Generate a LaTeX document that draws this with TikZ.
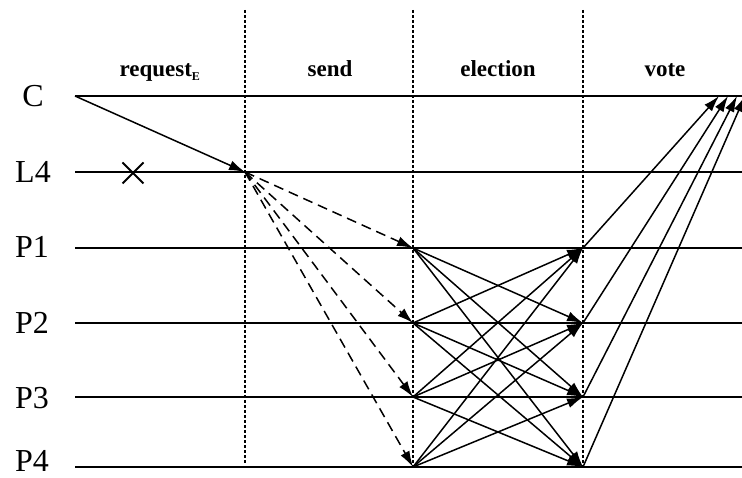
\documentclass[tikz,border=0pt]{standalone}
\usepackage{fontspec}
\setmainfont{Liberation Serif}
\usetikzlibrary{arrows.meta,shapes.misc}
\begin{document}
\begin{tikzpicture}[x=1pt,y=-1pt,
  proc/.style={font=\fontsize{32}{32}\selectfont, inner sep=0pt, text depth=0pt, anchor=base},
  phase/.style={font=\bfseries\fontsize{23}{23}\selectfont, inner sep=0pt, anchor=base},
  timeline/.style={line width=1.6pt},
  divider/.style={line width=1.2pt, dash pattern=on 3pt off 2pt},
  msg/.style={line width=1.5pt, -{Latex[length=16pt,width=10pt]}},
  dmsg/.style={msg, dash pattern=on 10pt off 6pt},
  crossmark/.style={cross out, draw, line width=2pt, minimum size=19pt, inner sep=0pt}]
\useasboundingbox (0,0) rectangle (742,478);
% process labels
\node[proc] (lC) at (33,107) {C};
\node[proc] (lL4) at (33,183) {L4};
\node[proc] (lP1) at (32,258) {P1};
\node[proc] (lP2) at (32,334) {P2};
\node[proc] (lP3) at (32,408) {P3};
\node[proc] (lP4) at (32,471) {P4};
% phase headers
\node[phase] (hreq) at (160,77) {request\textsubscript{\fontsize{12}{12}\selectfont E}};
\node[phase] (hsend) at (330,77) {send};
\node[phase] (helec) at (498,77) {election};
\node[phase] (hvote) at (665,77) {vote};
% timeline coordinates
\foreach \n/\y in {C/96,L4/172,P1/248,P2/323,P3/397,P4/467}{
  \coordinate (s\n) at (75,\y);
  \coordinate (e\n) at (742,\y);
  \draw[timeline] (s\n) -- (e\n);
}
% dividers
\coordinate (d1t) at (245,10); \coordinate (d1b) at (245,463);
\coordinate (d2t) at (413,10); \coordinate (d2b) at (413,467);
\coordinate (d3t) at (583,10); \coordinate (d3b) at (583,467);
\draw[divider] (d1t) -- (d1b);
\draw[divider] (d2t) -- (d2b);
\draw[divider] (d3t) -- (d3b);
% failed node mark
\node[crossmark] (x) at (133,173) {};
% event points
\coordinate (L) at (245,172);
\foreach \i/\y in {1/248,2/323,3/397,4/467}{
  \coordinate (a\i) at (413,\y);
  \coordinate (b\i) at (583,\y);
}
\coordinate (v1) at (719,96);
\coordinate (v2) at (728,96);
\coordinate (v3) at (737,96);
\coordinate (v4) at (745,96);
% request
\draw[msg] (sC) -- (L);
% send
\foreach \i in {1,2,3,4}{ \draw[dmsg] (L) -- (a\i); }
% election
\foreach \i in {1,2,3,4}{
  \foreach \j in {1,2,3,4}{
    \ifnum\i=\j\else \draw[msg] (a\i) -- (b\j); \fi
  }
}
% vote
\foreach \i in {1,2,3,4}{ \draw[msg] (b\i) -- (v\i); }
\end{tikzpicture}
\end{document}
